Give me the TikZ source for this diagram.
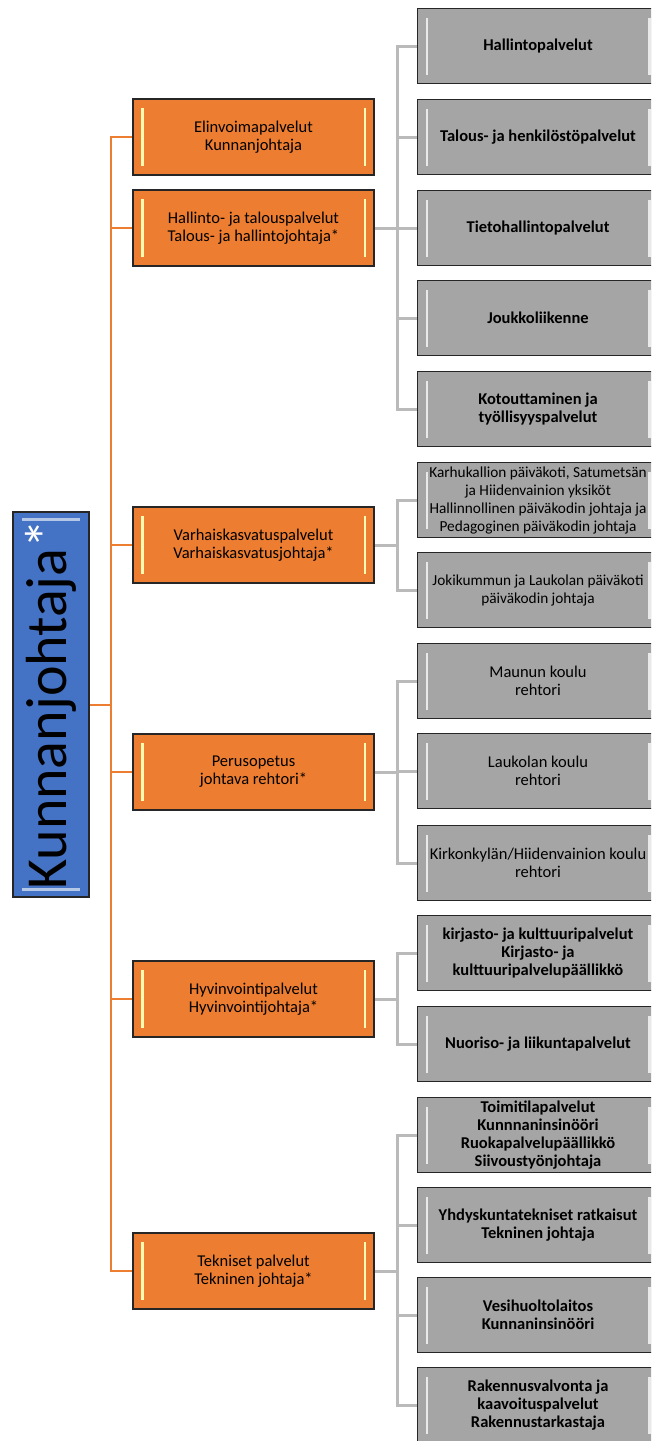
\documentclass[tikz,border=0pt]{standalone}
\usepackage{fontspec}
\setmainfont{Carlito}

\definecolor{oranssi}{HTML}{ED7D31}
\definecolor{sininen}{HTML}{4472C4}
\definecolor{harmaa}{HTML}{A5A5A5}
\definecolor{viiva}{HTML}{BABABA}
\definecolor{reuna}{HTML}{262626}

\tikzset{
  viiste/.style={path picture={
      \fill[#1] ([xshift=8pt,yshift=-9pt]path picture bounding box.north west)
        rectangle ([xshift=10.5pt,yshift=9pt]path picture bounding box.south west);
      \fill[#1] ([xshift=-8pt,yshift=-9pt]path picture bounding box.north east)
        rectangle ([xshift=-10.5pt,yshift=9pt]path picture bounding box.south east);}},
  pystyviiste/.style={path picture={
      \fill[#1] ([xshift=9pt,yshift=-6pt]path picture bounding box.north west)
        rectangle ([xshift=-9pt,yshift=-9pt]path picture bounding box.north east);
      \fill[#1] ([xshift=9pt,yshift=6pt]path picture bounding box.south west)
        rectangle ([xshift=-9pt,yshift=9pt]path picture bounding box.south east);}},
  johtaja/.style={draw=reuna, line width=1.5pt, fill=sininen, inner sep=0pt,
    minimum width=76pt, minimum height=385pt, pystyviiste={white!60!sininen}},
  palvelu/.style={draw=reuna, line width=1.5pt, fill=oranssi, inner sep=2pt,
    minimum width=241pt, minimum height=76pt, align=center,
    font=\fontsize{16.5}{18}\selectfont, viiste={yellow!30!white}},
  yksikko/.style={draw=reuna, line width=1.5pt, fill=harmaa, inner sep=2pt,
    minimum width=241pt, minimum height=75pt, align=center,
    font=\fontsize{16.5}{18}\selectfont\bfseries, viiste={white!75!harmaa}},
  ohut/.style={font=\fontsize{16.5}{18}\selectfont},
  tiivis/.style={font=\fontsize{15.3}{18}\selectfont},
  oranssiviiva/.style={draw=oranssi, line width=2pt},
  harmaaviiva/.style={draw=viiva, line width=3pt}
}

\begin{document}
\begin{tikzpicture}[x=1pt,y=-1pt]
  \useasboundingbox (0,0) rectangle (651,1441);
  \clip (0,0) rectangle (651,1441);

  % Kunnanjohtaja
  \node[johtaja] (kj) at (51,704.5) {};
  \node[rotate=90, font=\fontsize{58}{60}\selectfont] (kjteksti) at (kj.center)
    {Kunnanjohtaja\textcolor{white}{*}};

  % Palvelualueet
  \node[palvelu] (elinvoima) at (253.5,137) {Elinvoimapalvelut\\Kunnanjohtaja};
  \node[palvelu] (hallinto) at (253.5,228) {Hallinto- ja talouspalvelut\\Talous- ja hallintojohtaja*};
  \node[palvelu] (varhais) at (253.5,545) {Varhaiskasvatuspalvelut\\Varhaiskasvatusjohtaja*};
  \node[palvelu] (perus) at (253.5,772) {Perusopetus\\johtava rehtori*};
  \node[palvelu] (hyvin) at (253.5,999) {Hyvinvointipalvelut\\Hyvinvointijohtaja*};
  \node[palvelu] (tekn) at (253.5,1271) {Tekniset palvelut\\Tekninen johtaja*};

  % Yksiköt
  \node[yksikko] (h1) at (538,46) {Hallintopalvelut};
  \node[yksikko] (h2) at (538,137) {Talous- ja henkilöstöpalvelut};
  \node[yksikko] (h3) at (538,228) {Tietohallintopalvelut};
  \node[yksikko] (h4) at (538,318) {Joukkoliikenne};
  \node[yksikko] (h5) at (538,409) {Kotouttaminen ja\\työllisyyspalvelut};
  \node[yksikko, tiivis] (v1) at (538,500) {Karhukallion päiväkoti, Satumetsän\\ja Hiidenvainion yksiköt\\Hallinnollinen päiväkodin johtaja ja\\Pedagoginen päiväkodin johtaja};
  \node[yksikko, tiivis] (v2) at (538,590) {Jokikummun ja Laukolan päiväkoti\\päiväkodin johtaja};
  \node[yksikko, ohut] (p1) at (538,681) {Maunun koulu\\rehtori};
  \node[yksikko, ohut] (p2) at (538,771) {Laukolan koulu\\rehtori};
  \node[yksikko, ohut] (p3) at (538,863) {Kirkonkylän/Hiidenvainion koulu\\rehtori};
  \node[yksikko] (y1) at (538,953) {kirjasto- ja kulttuuripalvelut\\Kirjasto- ja\\kulttuuripalvelupäällikkö};
  \node[yksikko] (y2) at (538,1044) {Nuoriso- ja liikuntapalvelut};
  \node[yksikko] (t1) at (538,1135) {Toimitilapalvelut\\Kunnnaninsinööri\\Ruokapalvelupäällikkö\\Siivoustyönjohtaja};
  \node[yksikko] (t2) at (538,1225) {Yhdyskuntatekniset ratkaisut\\Tekninen johtaja};
  \node[yksikko] (t3) at (538,1315) {Vesihuoltolaitos\\Kunnaninsinööri};
  \node[yksikko] (t4) at (538,1405) {Rakennusvalvonta ja\\kaavoituspalvelut\\Rakennustarkastaja};

  % Oranssit yhteydet
  \coordinate (ok) at (111,704.5);
  \draw[oranssiviiva] (kj.east) -- (ok);
  \draw[oranssiviiva] (ok) |- (elinvoima.west);
  \draw[oranssiviiva] (ok) |- (hallinto.west);
  \draw[oranssiviiva] (ok) |- (varhais.west);
  \draw[oranssiviiva] (ok) |- (perus.west);
  \draw[oranssiviiva] (ok) |- (hyvin.west);
  \draw[oranssiviiva] (ok) |- (tekn.west);

  % Harmaat yhteydet
  \coordinate (hk) at (397,228);
  \draw[harmaaviiva] (hallinto.east) -- (hk);
  \draw[harmaaviiva] (hk) |- (h1.west);
  \draw[harmaaviiva] (hk) |- (h2.west);
  \draw[harmaaviiva] (hk) |- (h3.west);
  \draw[harmaaviiva] (hk) |- (h4.west);
  \draw[harmaaviiva] (hk) |- (h5.west);

  \coordinate (vk) at (397,545);
  \draw[harmaaviiva] (varhais.east) -- (vk);
  \draw[harmaaviiva] (vk) |- (v1.west);
  \draw[harmaaviiva] (vk) |- (v2.west);

  \coordinate (pk) at (397,772);
  \draw[harmaaviiva] (perus.east) -- (pk);
  \draw[harmaaviiva] (pk) |- (p1.west);
  \draw[harmaaviiva] (pk) |- (p2.west);
  \draw[harmaaviiva] (pk) |- (p3.west);

  \coordinate (yk) at (397,999);
  \draw[harmaaviiva] (hyvin.east) -- (yk);
  \draw[harmaaviiva] (yk) |- (y1.west);
  \draw[harmaaviiva] (yk) |- (y2.west);

  \coordinate (tk) at (397,1271);
  \draw[harmaaviiva] (tekn.east) -- (tk);
  \draw[harmaaviiva] (tk) |- (t1.west);
  \draw[harmaaviiva] (tk) |- (t2.west);
  \draw[harmaaviiva] (tk) |- (t3.west);
  \draw[harmaaviiva] (tk) |- (t4.west);
\end{tikzpicture}
\end{document}
